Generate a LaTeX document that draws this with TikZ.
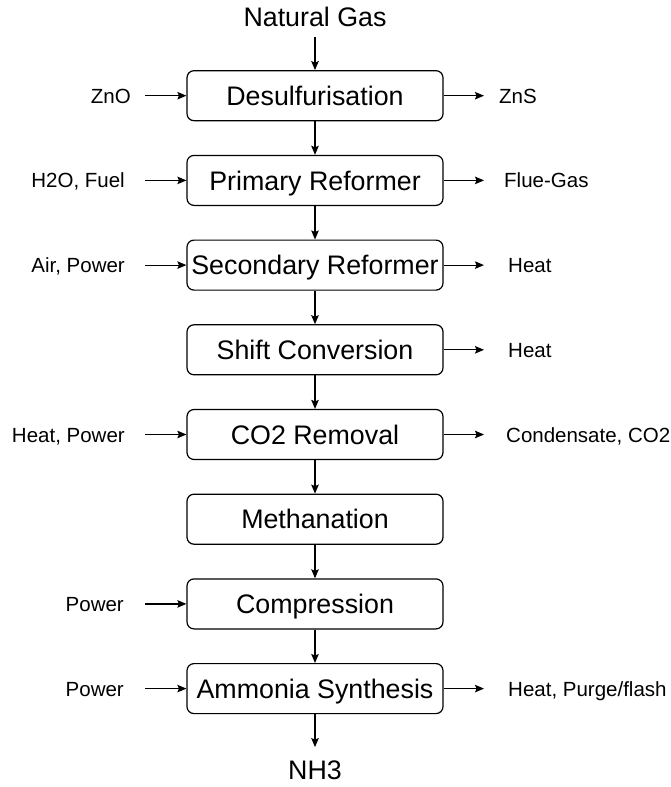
\documentclass[tikz,border=0pt]{standalone}
\usepackage{fontspec}
\setmainfont{Liberation Sans}
\usetikzlibrary{arrows.meta}

\tikzset{
  unit/.style={draw, rounded corners=7pt, line width=1.2pt, minimum width=256pt,
    minimum height=50pt, inner xsep=2pt, text height=19.2pt, text depth=0pt,
    font=\fontsize{26.8}{32}\selectfont},
  feed/.style={font=\fontsize{26.8}{32}\selectfont, anchor=base, inner sep=0pt},
  stream/.style={font=\fontsize{20.5}{24}\selectfont, inner sep=0pt},
  flow/.style={-{Stealth[length=9pt, width=7.5pt, inset=1.5pt]}, line width=1.2pt}
}

\begin{document}
\begin{tikzpicture}[x=1pt, y=-1pt]
  \useasboundingbox (0,0) rectangle (670,787);
  \coordinate (inx) at (145,0);
  \coordinate (outx) at (484,0);

  \def\dy{84.7}
  \foreach \i/\name/\txt in {0/desulf/Desulfurisation, 1/primary/Primary Reformer,
      2/secondary/Secondary Reformer, 3/shift/Shift Conversion, 4/coremoval/CO2 Removal,
      5/methan/Methanation, 6/compress/Compression, 7/synth/Ammonia Synthesis} {
    \pgfmathsetmacro{\yc}{95.7 + \i*\dy}
    \node[unit] (\name) at (315,\yc) {\txt};
  }

  \node[feed] (gas) at (315,27) {Natural Gas};
  \node[feed] (nh3) at (315,779) {NH3};

  \draw[flow, shorten <=10pt] (gas) -- (desulf);
  \foreach \a/\b in {desulf/primary, primary/secondary, secondary/shift,
      shift/coremoval, coremoval/methan, methan/compress, compress/synth}
    \draw[flow] (\a) -- (\b);
  \draw[flow, shorten >=13pt] (synth) -- (nh3);

  \foreach \i/\name/\txt/\lx in {0/desulf/ZnO/131, 1/primary/{H2O, Fuel}/125,
      2/secondary/{Air, Power}/125, 4/coremoval/{Heat, Power}/125,
      6/compress/Power/124, 7/synth/Power/124} {
    \pgfmathsetmacro{\yc}{95.7 + \i*\dy}
    \node[stream, anchor=base east] (\name-in) at (\lx,{\yc+7.5}) {\txt};
    \draw[flow] (inx |- \name.west) -- (\name.west);
  }

  \foreach \i/\name/\txt/\lx in {0/desulf/ZnS/499, 1/primary/Flue-Gas/504,
      2/secondary/Heat/508, 3/shift/Heat/508, 4/coremoval/{Condensate, CO2}/506,
      7/synth/{Heat, Purge/flash}/508} {
    \pgfmathsetmacro{\yc}{95.7 + \i*\dy}
    \node[stream, anchor=base west] (\name-out) at (\lx,{\yc+7.5}) {\txt};
    \draw[flow] (\name.east) -- (outx |- \name.east);
  }
\end{tikzpicture}
\end{document}
